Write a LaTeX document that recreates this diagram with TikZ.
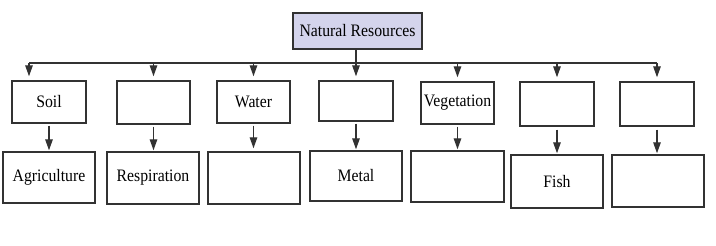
\documentclass[tikz,border=0pt]{standalone}
\usepackage{fontspec}
\setmainfont{Liberation Serif}[FakeStretch=0.9]
\usetikzlibrary{arrows.meta}
\definecolor{boxline}{RGB}{50,50,50}
\definecolor{headfill}{RGB}{212,212,236}

\begin{document}
\begin{tikzpicture}[x=1pt, y=-1pt,
		box/.style={draw=boxline, line width=1.4pt, inner sep=0pt, font=\fontsize{17.5}{20}\selectfont},
		arr/.style={draw=boxline, line width=1.3pt, -{Triangle[length=11pt,width=7.5pt]}}]
	\useasboundingbox (0,0) rectangle (716,246);
	
	% Head box
	\node[box, fill=headfill, minimum width=129pt, minimum height=36pt] (res) at (357.5,31) {Natural Resources};
	
	% Upper row
	\node[box, minimum width=74pt, minimum height=42pt] (soil) at (49,102) {Soil};
	\node[box, minimum width=73pt, minimum height=43pt] (airtop) at (153.5,102.5) {};
	\node[box, minimum width=73pt, minimum height=42pt] (water) at (253.5,102) {Water};
	\node[box, minimum width=74pt, minimum height=40pt] (mintop) at (356,101) {};
	\node[box, minimum width=73pt, minimum height=42pt] (veg) at (457.5,103) {Vegetation};
	\node[box, minimum width=74pt, minimum height=44pt] (animtop) at (557,104) {};
	\node[box, minimum width=74pt, minimum height=44pt] (lasttop) at (657,104) {};
	
	% Lower row
	\node[box, minimum width=92pt, minimum height=51pt] (agri) at (49,177.5) {Agriculture};
	\node[box, minimum width=92pt, minimum height=52pt] (resp) at (153,178) {Respiration};
	\node[box, minimum width=92pt, minimum height=52pt] (waterbot) at (254,178) {};
	\node[box, minimum width=92pt, minimum height=50pt] (metal) at (356,176) {Metal};
	\node[box, minimum width=93pt, minimum height=51pt] (vegbot) at (457.5,176.5) {};
	\node[box, minimum width=92pt, minimum height=53pt] (fish) at (557,181.5) {Fish};
	\node[box, minimum width=92pt, minimum height=52pt] (lastbot) at (658,181) {};
	
	% Bus line
	\coordinate (busl) at (29,63);
	\coordinate (busr) at (657,63);
	\draw[boxline, line width=1.3pt] (busl) -- (busr);
	\draw[arr, shorten >=4pt] (res.south -| mintop.north) -- (mintop.north);
	
	% Arrows to upper row
	\draw[arr, shorten >=4pt] (busl) -- (busl |- soil.north);
	\draw[arr, shorten >=4pt] (airtop.north |- busl) -- (airtop.north);
	\draw[arr, shorten >=4pt] (water.north |- busl) -- (water.north);
	\draw[arr, shorten >=4pt] (veg.north |- busl) -- (veg.north);
	\draw[arr, shorten >=4pt] (animtop.north |- busl) -- (animtop.north);
	\draw[arr, shorten >=4pt] (busr) -- (busr |- lasttop.north);
	
	% Arrows to lower row
	\draw[arr, shorten <=2pt, shorten >=1pt] (soil.south) -- (soil.south |- agri.north);
	\draw[arr, shorten <=2pt, shorten >=1pt] (airtop.south) -- (airtop.south |- resp.north);
	\draw[arr, shorten <=2pt, shorten >=3pt] (water.south) -- (water.south |- waterbot.north);
	\draw[arr, shorten <=2pt, shorten >=1pt] (mintop.south) -- (mintop.south |- metal.north);
	\draw[arr, shorten <=2pt, shorten >=1pt] (veg.south) -- (veg.south |- vegbot.north);
	\draw[arr, shorten <=3pt, shorten >=1pt] (animtop.south) -- (animtop.south |- fish.north);
	\draw[arr, shorten <=3pt, shorten >=1pt] (lasttop.south) -- (lasttop.south |- lastbot.north);
\end{tikzpicture}
\end{document}
